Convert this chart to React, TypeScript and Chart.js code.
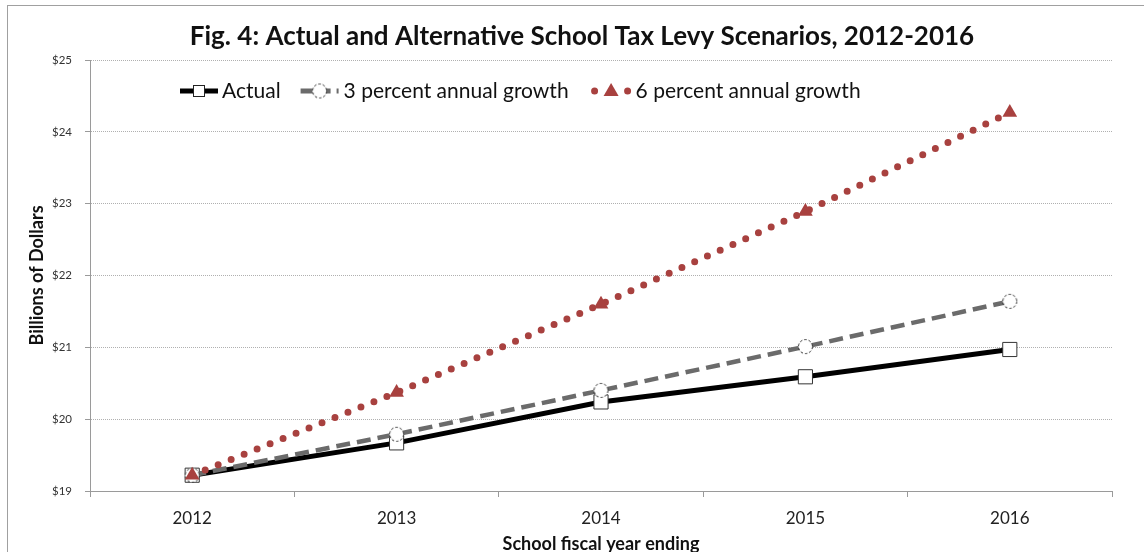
import React, { useEffect, useRef } from "react";
import { Chart, registerables } from "chart.js";

Chart.register(...registerables);

const years = ["2012", "2013", "2014", "2015", "2016"];
const actual = [19.22, 19.67, 20.24, 20.59, 20.97];
const growth3 = [19.22, 19.79, 20.4, 21.01, 21.64];
const growth6 = [19.22, 20.37, 21.6, 22.89, 24.27];
const seriesLabels = ["Actual", "3 percent annual growth", "6 percent annual growth"];
const titleText = "Fig. 4: Actual and Alternative School Tax Levy Scenarios, 2012-2016";
const yTitle = "Billions of Dollars";
const xTitle = "School fiscal year ending";
const yMin = 19;
const yMax = 25;

const FONT = "Lato";
const RED = "#a8413f";
const GRAY = "#6b6b6b";

function makeCircleImage(): HTMLCanvasElement {
  const c = document.createElement("canvas");
  c.width = 17;
  c.height = 17;
  const g = c.getContext("2d")!;
  g.beginPath();
  g.arc(8.5, 8.5, 7, 0, Math.PI * 2);
  g.fillStyle = "#ffffff";
  g.fill();
  g.setLineDash([2.5, 2]);
  g.lineWidth = 1;
  g.strokeStyle = "#222";
  g.stroke();
  return c;
}

export default function App() {
  const ref = useRef<HTMLCanvasElement | null>(null);

  useEffect(() => {
    if (!ref.current) return;
    const circleImg = makeCircleImage();

    const framePlugin = {
      id: "frame",
      beforeDraw(chart: any) {
        const ctx = chart.ctx;
        ctx.save();
        ctx.fillStyle = "#ffffff";
        ctx.fillRect(0, 0, chart.width, chart.height);
        ctx.strokeStyle = "#a0a0a0";
        ctx.lineWidth = 1;
        ctx.strokeRect(7.5, 5.5, 1400, 800);
        ctx.restore();
      },
    };

    const titlePlugin = {
      id: "customTitle",
      afterDraw(chart: any) {
        const ctx = chart.ctx;
        ctx.save();
        ctx.font = `bold 26px ${FONT}`;
        ctx.fillStyle = "#111";
        ctx.textAlign = "center";
        ctx.textBaseline = "middle";
        ctx.fillText(titleText, 582, 37);
        ctx.restore();
      },
    };

    const legendPlugin = {
      id: "customLegend",
      afterDatasetsDraw(chart: any) {
        const ctx = chart.ctx;
        ctx.save();
        ctx.font = `21px ${FONT}`;
        ctx.textBaseline = "middle";
        ctx.fillStyle = "#111";
        const y = 91;
        let x = 180;
        const symW = 38;
        // Actual
        ctx.beginPath();
        ctx.strokeStyle = "#000";
        ctx.lineWidth = 5;
        ctx.moveTo(x, y);
        ctx.lineTo(x + symW, y);
        ctx.stroke();
        ctx.fillStyle = "#fff";
        ctx.fillRect(x + symW / 2 - 6, y - 6, 12, 12);
        ctx.lineWidth = 1;
        ctx.strokeStyle = "#222";
        ctx.strokeRect(x + symW / 2 - 6 + 0.5, y - 6 + 0.5, 11, 11);
        ctx.fillStyle = "#111";
        ctx.fillText(seriesLabels[0], x + symW + 4, y);
        x = x + symW + 4 + ctx.measureText(seriesLabels[0]).width + 20;
        // 3 percent
        ctx.beginPath();
        ctx.strokeStyle = GRAY;
        ctx.lineWidth = 5;
        ctx.setLineDash([12, 6]);
        ctx.moveTo(x, y);
        ctx.lineTo(x + symW, y);
        ctx.stroke();
        ctx.setLineDash([]);
        ctx.drawImage(circleImg, x + symW / 2 - 8.5, y - 8.5);
        ctx.fillStyle = "#111";
        ctx.fillText(seriesLabels[1], x + symW + 5, y);
        x = x + symW + 5 + ctx.measureText(seriesLabels[1]).width + 26;
        // 6 percent
        ctx.fillStyle = RED;
        [0, 33].forEach((dx) => {
          ctx.beginPath();
          ctx.arc(x + dx, y, 3.5, 0, Math.PI * 2);
          ctx.fill();
        });
        const cx = x + 16.5;
        ctx.beginPath();
        ctx.moveTo(cx, y - 8);
        ctx.lineTo(cx + 7.5, y + 5);
        ctx.lineTo(cx - 7.5, y + 5);
        ctx.closePath();
        ctx.fill();
        ctx.fillStyle = "#111";
        ctx.fillText(seriesLabels[2], x + 41, y);
        ctx.restore();
      },
    };

    const chart = new Chart(ref.current, {
      type: "line",
      data: {
        labels: years,
        datasets: [
          {
            label: seriesLabels[0],
            data: actual,
            borderColor: "#000",
            borderWidth: 5,
            tension: 0,
            pointStyle: "rect",
            pointRadius: 10,
            pointBackgroundColor: "#fff",
            pointBorderColor: "#333",
            pointBorderWidth: 1,
            order: 3,
          },
          {
            label: seriesLabels[1],
            data: growth3,
            borderColor: GRAY,
            borderWidth: 4.5,
            borderDash: [14, 7],
            tension: 0,
            pointStyle: circleImg as any,
            pointRadius: 8,
            order: 2,
          },
          {
            label: seriesLabels[2],
            data: growth6,
            borderColor: RED,
            borderWidth: 7,
            borderDash: [0, 14],
            borderCapStyle: "round",
            tension: 0,
            pointStyle: "triangle",
            pointRadius: 8.5,
            pointBackgroundColor: RED,
            pointBorderColor: RED,
            pointBorderWidth: 0,
            order: 1,
          },
        ],
      },
      options: {
        responsive: false,
        animation: false,
        layout: { padding: { top: 60, right: 32, left: 0, bottom: 0 } },
        plugins: {
          legend: { display: false },
          title: { display: false },
          tooltip: { enabled: false },
        },
        scales: {
          x: {
            offset: true,
            afterFit(scale: any) {
              scale.height = 71;
            },
            grid: {
              display: true,
              offset: true,
              drawOnChartArea: false,
              tickLength: 6,
              tickColor: "#9a9a9a",
              lineWidth: 1,
            },
            border: { display: true, color: "#9a9a9a", width: 1 },
            ticks: {
              color: "#222",
              font: { family: FONT, size: 17 },
              padding: 11,
            },
            title: {
              display: true,
              text: xTitle,
              color: "#111",
              font: { family: FONT, size: 18, weight: "bold" },
              padding: { top: 0, bottom: 7 },
            },
          },
          y: {
            min: yMin,
            max: yMax,
            afterFit(scale: any) {
              scale.width = 90;
            },
            ticks: {
              stepSize: 1,
              color: "#333",
              font: { family: FONT, size: 11.5 },
              padding: 13,
              callback: (v: any) => "$" + v,
            },
            grid: {
              color: "#b0b0b0",
              lineWidth: 1,
              tickLength: 5,
              tickColor: "#9a9a9a",
              tickBorderDash: [],
            },
            border: { display: true, color: "#9a9a9a", width: 1, dash: [1, 1] },
            title: {
              display: true,
              text: yTitle,
              color: "#111",
              font: { family: FONT, size: 18, weight: "bold" },
              padding: { top: 26, bottom: 0 },
            },
          },
        },
      },
      plugins: [framePlugin, titlePlugin, legendPlugin],
    });

    return () => chart.destroy();
  }, []);

  return (
    <div style={{ position: "fixed", left: 0, top: 0, width: 1144, height: 562, overflow: "hidden" }}>
      <canvas ref={ref} width={1144} height={562} style={{ display: "block" }} />
    </div>
  );
}
